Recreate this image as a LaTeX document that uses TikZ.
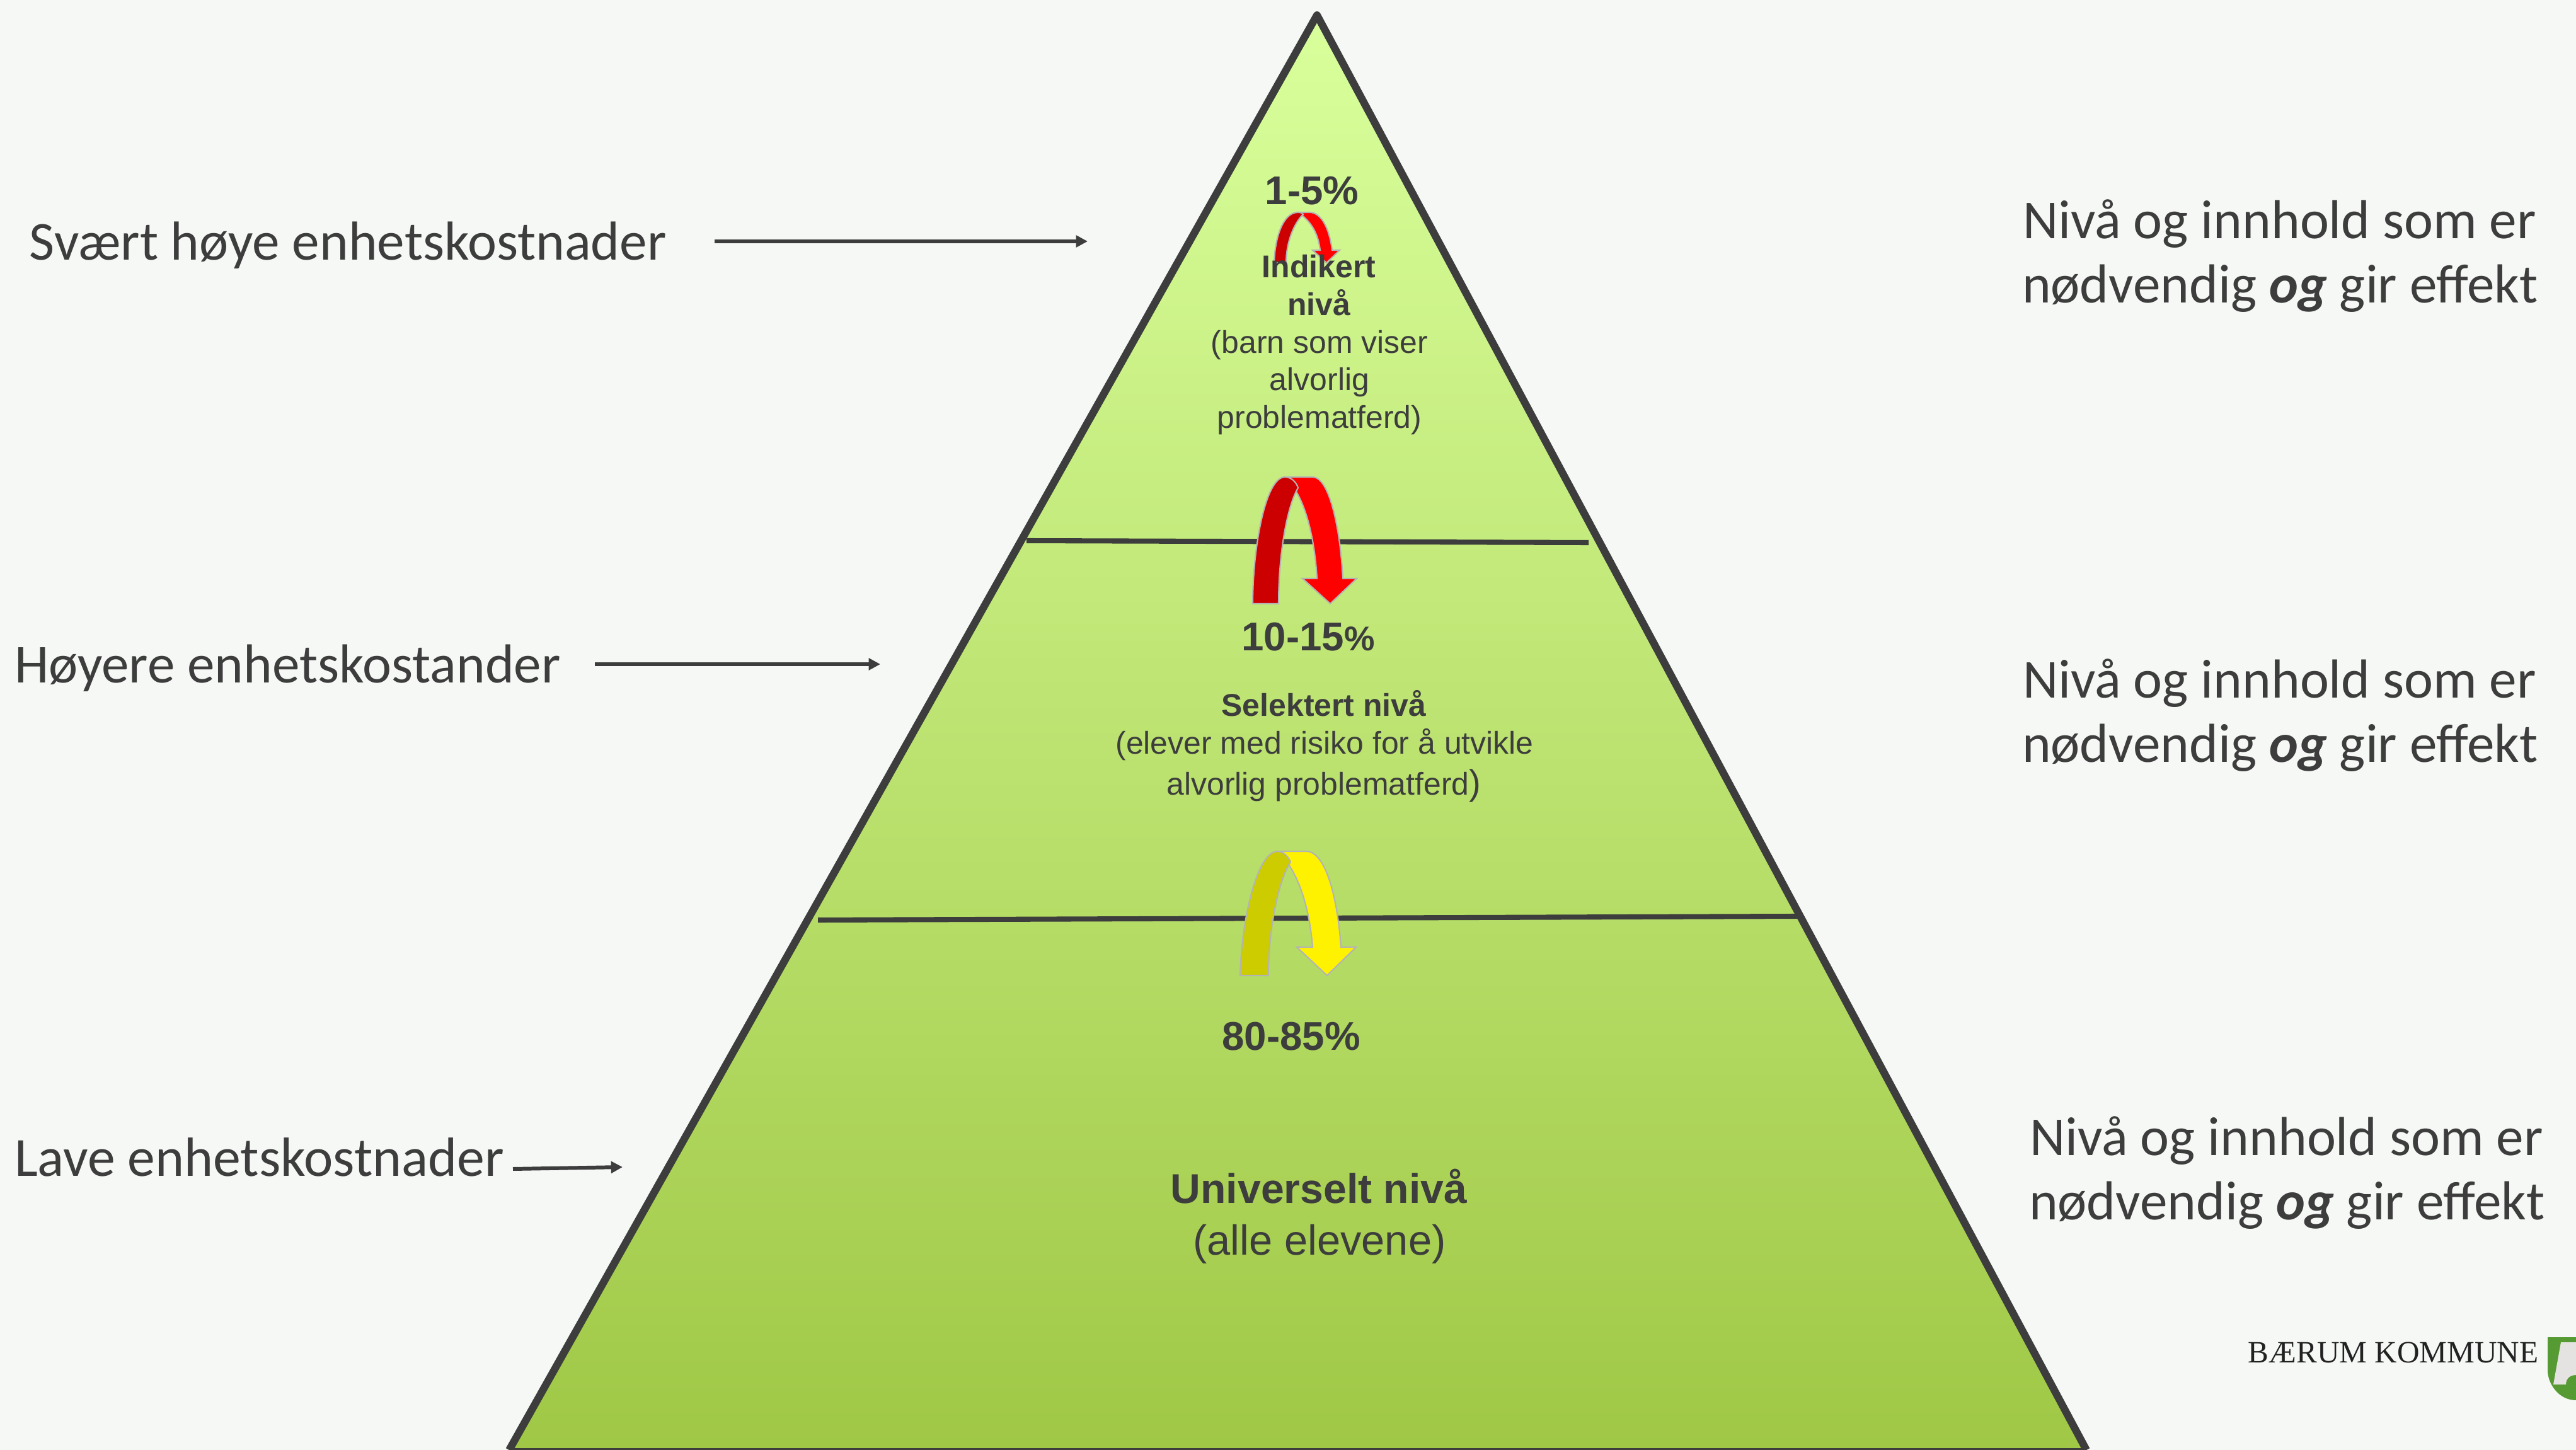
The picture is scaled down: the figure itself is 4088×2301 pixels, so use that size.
\documentclass[tikz,border=0pt]{standalone}
\usepackage{fontspec}
\setmainfont{Carlito}
\newfontfamily\arialfont{Liberation Sans}
\newfontfamily\timesfont{Liberation Serif}
\definecolor{bgc}{HTML}{F5F8F4}
\definecolor{ink}{HTML}{3C3D3C}
\definecolor{topg}{HTML}{D9FF9C}
\definecolor{botg}{HTML}{A0C846}
\definecolor{bandgray}{HTML}{B4B4B4}
\definecolor{darkred}{HTML}{CC0000}
\definecolor{darkyel}{HTML}{CCCC00}
\definecolor{shieldg}{HTML}{569A33}
\definecolor{shieldw}{HTML}{E5E2E2}
\definecolor{logoink}{HTML}{222222}
\newcommand{\pxfont}[2]{\fontsize{#1}{#2}\selectfont}
\usetikzlibrary{arrows.meta}
\tikzset{
  x=0.01cm,y=-0.01cm,
  side/.style={inner sep=0,outer sep=0,text=ink,anchor=base west,font=\pxfont{24.8}{29}},
  pct/.style={inner sep=0,text=ink,anchor=base,font=\arialfont\bfseries\pxfont{18.1}{20}},
  lvl/.style={inner sep=0,text=ink,anchor=base,font=\arialfont\bfseries\pxfont{14.2}{17}},
  sub/.style={inner sep=0,text=ink,anchor=base,font=\arialfont\pxfont{14.2}{17}},
  pyr/.style={line width=3.4pt,draw=ink,line join=round},
  divider/.style={line width=2.3pt,draw=ink},
  pointer/.style={line width=1.7pt,draw=ink,-{Triangle[length=5.2pt,width=5.2pt]}},
  band/.style={draw=bandgray,line width=0.6pt,line join=miter},
}
\begin{document}
\begin{tikzpicture}
\useasboundingbox (0,0) rectangle (4088,2301);
\fill[bgc] (0,0) rectangle (4088,2301);
% pyramid
\coordinate (apex) at (2090,24);
\coordinate (bl) at (808,2301);
\coordinate (br) at (3311,2301);
\shade[top color=topg,bottom color=botg] (apex) -- (br) -- (bl) -- cycle;
\draw[pyr] (bl) -- (apex) -- (br);
\draw[pyr,line width=1.6pt] (bl) -- (br);
\coordinate (d1a) at (1629,858); \coordinate (d1b) at (2521,861);
\coordinate (d2a) at (1298,1460); \coordinate (d2b) at (2852,1454);
\draw[divider] (d1a) -- (d1b);
\draw[divider] (d2a) -- (d2b);
% small red
\path[band,fill=red] (2060,337) -- (2078,337) .. controls (2098,337) and (2110,365) .. (2114,397) -- (2126,397) -- (2105,417) -- (2083,397) -- (2095,397) .. controls (2092,372) and (2082,352) .. (2060,337) -- cycle;
\path[band,fill=darkred] (2022,417) .. controls (2023,380) and (2035,337) .. (2060,337) .. controls (2064,337) and (2066,338) .. (2068,340) .. controls (2053,355) and (2041,385) .. (2041,417) -- cycle;
% big red
\path[band,fill=red] (2039,757) -- (2083,757) .. controls (2110,757) and (2127,840) .. (2131,918) -- (2153,918) -- (2111,958) -- (2067,918) -- (2090,918) .. controls (2086,850) and (2070,785) .. (2039,757) -- cycle;
\path[band,fill=darkred] (1988,958) .. controls (1988,870) and (2008,757) .. (2039,757) .. controls (2048,757) and (2056,763) .. (2060,774) .. controls (2042,805) and (2029,880) .. (2029,958) -- cycle;
% yellow
\path[band,fill=yellow] (2027,1351) -- (2073,1351) .. controls (2105,1351) and (2123,1430) .. (2128,1503) -- (2152,1503) -- (2106,1548) -- (2058,1503) -- (2083,1503) .. controls (2078,1440) and (2060,1380) .. (2027,1351) -- cycle;
\path[band,fill=darkyel] (1968,1548) .. controls (1970,1460) and (1995,1351) .. (2027,1351) .. controls (2036,1351) and (2044,1358) .. (2048,1368) .. controls (2030,1395) and (2013,1470) .. (2013,1548) -- cycle;
% pyramid texts
\node[pct] (p1) at (2082,325) {1-5\%};
\node[lvl] (l1a) at (2093,441) {Indikert};
\node[lvl] (l1b) at (2093,501) {nivå};
\node[sub] (s1a) at (2094,561) {(barn som viser};
\node[sub] (s1b) at (2094,620) {alvorlig};
\node[sub] (s1c) at (2094,680) {problematferd)};
\node[pct] (p2) at (2076,1032) {10-15{\pxfont{15.5}{17}\%}};
\node[lvl] (l2) at (2101,1136) {Selektert nivå};
\node[sub] (s2a) at (2102,1196) {(elever med risiko for å utvikle};
\node[sub] (s2b) at (2101,1261) {alvorlig problematferd{\pxfont{16}{17})}};
\node[pct] (p3) at (2049,1666) {80-85\%};
\node[pct,font=\arialfont\bfseries\pxfont{18.8}{20}] (l3) at (2093,1909) {Universelt nivå};
\node[pct,font=\arialfont\pxfont{19}{20}] (s3) at (2094,1991) {(alle elevene)};
% left
\node[side] (ca) at (47,413) {Svært høye enhetskostnader};
\node[side] (cb) at (23,1083) {Høyere enhetskostander};
\node[side,font=\pxfont{24.95}{29}] (cc) at (23,1866) {Lave enhetskostnader};
\coordinate (caS) at (1134,383); \coordinate (caE) at (1726,383);
\coordinate (cbS) at (944,1054); \coordinate (cbE) at (1397,1054);
\coordinate (ccS) at (814,1855); \coordinate (ccE) at (988,1852);
\draw[pointer] (caS) -- (caE);
\draw[pointer] (cbS) -- (cbE);
\draw[pointer] (ccS) -- (ccE);
% right
\node[side] (ra1) at (3210,379) {Nivå og innhold som er};
\node[side] (ra2) at (3209,481) {nødvendig \textbf{\textit{og}} gir effekt};
\node[side] (rb1) at (3210,1107) {Nivå og innhold som er};
\node[side] (rb2) at (3209,1209) {nødvendig \textbf{\textit{og}} gir effekt};
\node[side] (rc1) at (3221,1833) {Nivå og innhold som er};
\node[side] (rc2) at (3220,1935) {nødvendig \textbf{\textit{og}} gir effekt};
% logo
\node[inner sep=0,anchor=base west,text=logoink,font=\timesfont\pxfont{14}{16}] (logo) at (3567,2162) {BÆRUM KOMMUNE};
\fill[shieldg] (4043,2122) -- (4088,2122) -- (4088,2222) .. controls (4060,2222) and (4043,2195) .. (4043,2175) -- cycle;
\fill[shieldw] (4064,2130) -- (4088,2130) -- (4088,2182) .. controls (4078,2182) and (4072,2188) .. (4072,2197) -- (4052,2197) -- cycle;
\end{tikzpicture}
\end{document}
